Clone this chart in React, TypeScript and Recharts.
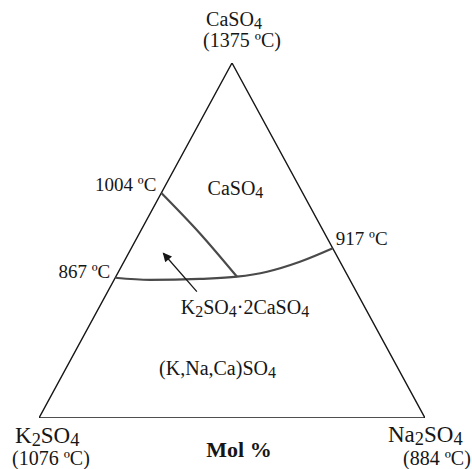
import { LineChart, Line, XAxis, YAxis, ReferenceDot } from 'recharts';

// compositions in mol %: Na2SO4 and CaSO4 (K2SO4 is the remainder)
const edgeNa = [0, 100, 0, 0];
const edgeCa = [0, 0, 100, 0];

// K2SO4.2CaSO4 / (K,Na,Ca)SO4 boundary, 867 -> 917 ºC
const lowerNa = [0, 9.3, 22.1, 31.4, 38.5, 45.6, 52.2];
const lowerCa = [39.5, 38.9, 39.2, 39.8, 41.2, 44.0, 47.8];

// CaSO4 / K2SO4.2CaSO4 boundary, from 1004 ºC
const upperNa = [0, 15.7, 31.4];
const upperCa = [63.4, 52.0, 39.8];

const arrowNa = [23.1, 9.0];
const arrowCa = [35.6, 46.4];

const vertexNames = ['K2SO4', 'Na2SO4', 'CaSO4'];
const vertexTemps = ['(1076 ºC)', '(884 ºC)', '(1375 ºC)'];
const vertexNa = [0, 100, 0];
const vertexCa = [0, 0, 100];

const pointTemps = ['1004 ºC', '867 ºC', '917 ºC'];
const pointNa = [0, 0, 52.2];
const pointCa = [63.4, 39.5, 47.8];

const regionNames = ['CaSO4', 'K2SO4·2CaSO4', '(K,Na,Ca)SO4'];
const regionNa = [18.8, 38.0, 39.5];
const regionCa = [64.2, 30.7, 13.5];

const axisTitle = 'Mol %';

const FONT = '"Liberation Serif", "Times New Roman", serif';
const INK = '#161616';

function toXY(na: number[], ca: number[]) {
    return na.map((n, i) => ({ x: (n + ca[i] / 2) / 100, y: ca[i] / 100 }));
}

function chemSpans(text: string, size: number) {
    const tokens: { s: string; sub: boolean }[] = [];
    for (let i = 0; i < text.length; i++) {
        const c = text[i];
        const sub = /\d/.test(c) && i > 0 && /[A-Za-z)]/.test(text[i - 1]);
        const last = tokens[tokens.length - 1];
        if (last && last.sub === sub) last.s += c;
        else tokens.push({ s: c, sub });
    }
    const shift = size * 0.13;
    let down = false;
    return tokens.map((t, k) => {
        let dy = 0;
        if (t.sub && !down) { dy = shift; down = true; }
        if (!t.sub && down) { dy = -shift; down = false; }
        return (
            <tspan key={k} dy={dy} fontSize={t.sub ? size * 0.8 : size}>{t.s}</tspan>
        );
    });
}

function tag(text: string, dx: number, dy: number, size: number, anchor: string, chem: boolean, weight = 'normal') {
    return (props: any) => {
        const vb = props.viewBox || {};
        return (
            <text x={vb.x + dx} y={vb.y + dy} textAnchor={anchor} fontFamily={FONT}
                  fontSize={size} fontWeight={weight} fill={INK}>
                {chem ? chemSpans(text, size) : text}
            </text>
        );
    };
}

// label placement (pixels around each anchor)
const vertexLayout = [
    { name: [-24, 25, 'start'], temp: [-27, 47, 'start'], size: 23 },
    { name: [-37, 24, 'start'], temp: [-22, 47, 'start'], size: 23 },
    { name: [2, -37, 'middle'], temp: [10, -16, 'middle'], size: 20 },
];
const pointLayout: [number, number, string][] = [
    [-5, -2, 'end'],
    [-5, 0, 'end'],
    [3, -3, 'start'],
];

export default function App() {
    const edge = toXY(edgeNa, edgeCa);
    const lower = toXY(lowerNa, lowerCa);
    const upper = toXY(upperNa, upperCa);
    const arrow = toXY(arrowNa, arrowCa);
    const vertices = toXY(vertexNa, vertexCa);
    const points = toXY(pointNa, pointCa);
    const regions = toXY(regionNa, regionCa);

    return (
        <div style={{ position: 'absolute', left: 0, top: 0, width: 472, height: 469 }}>
            <LineChart width={472} height={469} margin={{ top: 63, right: 47, bottom: 51, left: 39 }}>
                <defs>
                    <marker id="arrowHead" viewBox="0 0 10 10" refX="9" refY="5" markerWidth="11"
                            markerHeight="9" markerUnits="userSpaceOnUse" orient="auto">
                        <path d="M0,0 L10,5 L0,10 z" fill={INK} />
                    </marker>
                </defs>
                <XAxis type="number" dataKey="x" domain={[0, 1]} hide allowDataOverflow />
                <YAxis type="number" dataKey="y" domain={[0, 1]} hide allowDataOverflow />
                <Line data={edge} dataKey="y" type="linear" stroke={INK} strokeWidth={1.4}
                      dot={false} activeDot={false} isAnimationActive={false} />
                <Line data={lower} dataKey="y" type="monotone" stroke="#4a4a4a" strokeWidth={2.2}
                      dot={false} activeDot={false} isAnimationActive={false} />
                <Line data={upper} dataKey="y" type="monotone" stroke="#4a4a4a" strokeWidth={2.2}
                      dot={false} activeDot={false} isAnimationActive={false} />
                <Line data={arrow} dataKey="y" type="linear" stroke={INK} strokeWidth={1.3}
                      markerEnd="url(#arrowHead)"
                      dot={false} activeDot={false} isAnimationActive={false} />

                {vertices.map((p, i) => {
                    const L = vertexLayout[i];
                    return [
                        <ReferenceDot key={'vn' + i} x={p.x} y={p.y} r={0} fill="none" stroke="none"
                                      label={tag(vertexNames[i], L.name[0] as number, L.name[1] as number, L.size, L.name[2] as string, true)} />,
                        <ReferenceDot key={'vt' + i} x={p.x} y={p.y} r={0} fill="none" stroke="none"
                                      label={tag(vertexTemps[i], L.temp[0] as number, L.temp[1] as number, 20, L.temp[2] as string, false)} />,
                    ];
                })}
                {points.map((p, i) => (
                    <ReferenceDot key={'pt' + i} x={p.x} y={p.y} r={0} fill="none" stroke="none"
                                  label={tag(pointTemps[i], pointLayout[i][0], pointLayout[i][1], 19, pointLayout[i][2], false)} />
                ))}
                {regions.map((p, i) => (
                    <ReferenceDot key={'rg' + i} x={p.x} y={p.y} r={0} fill="none" stroke="none"
                                  label={tag(regionNames[i], 0, 5, 20, 'middle', true)} />
                ))}
                <ReferenceDot x={0.5} y={0} r={0} fill="none" stroke="none"
                              label={tag(axisTitle, 7, 39, 22, 'middle', false, 'bold')} />
            </LineChart>
        </div>
    );
}
